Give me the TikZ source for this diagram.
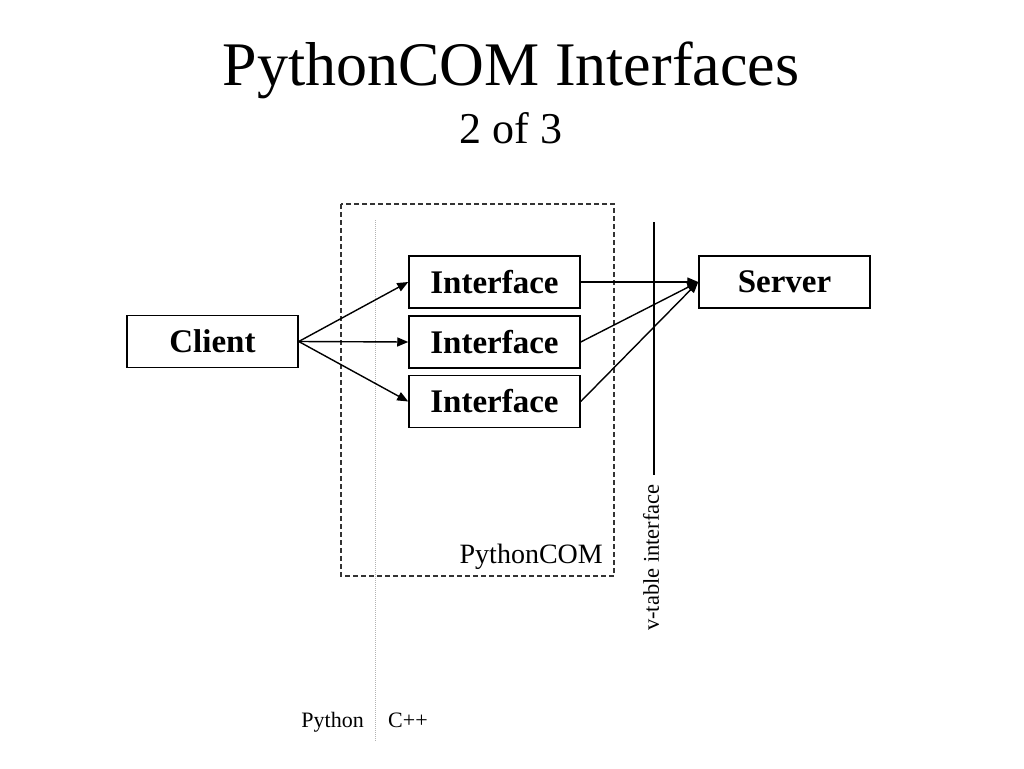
\documentclass[tikz,border=0pt]{standalone}
\usepackage{fontspec}
\setmainfont{Liberation Serif}
\usetikzlibrary{arrows.meta}
\begin{document}
\begin{tikzpicture}[x=1pt,y=-1pt,
  box/.style={draw, line width=1.5pt, minimum width=171pt, minimum height=52pt, inner sep=0pt,
    font=\fontsize{33}{40}\selectfont\bfseries},
  conn/.style={line width=1.4pt, -{Triangle[length=11pt,width=9pt]}},
  lbl/.style={font=\fontsize{22}{26}\selectfont, inner sep=0pt}
]
\useasboundingbox (0,0) rectangle (1024,768);
% title
\node[anchor=base, inner sep=0pt, font=\fontsize{62}{70}\selectfont] (title) at (511,85) {PythonCOM Interfaces};
\node[anchor=base, inner sep=0pt, font=\fontsize{44}{50}\selectfont] (sub) at (511,143) {2 of 3};
% PythonCOM dashed box
\draw[dash pattern=on 5pt off 3pt, line width=1.2pt, black!80] (341,204) rectangle (614,576);
\node[anchor=base east, inner sep=0pt, font=\fontsize{28}{32}\selectfont] (pcom) at (603,563) {PythonCOM};
% Python / C++ divider
\coordinate (dtop) at (375,220);
\coordinate (dbot) at (375,742);
\draw[black!30, line width=0.9pt, dash pattern=on 1pt off 1pt] (dtop) -- (dbot);
\node[lbl, anchor=base east] (py) at (364,727) {Python};
\node[lbl, anchor=base west] (cpp) at (388,727) {C++};
% v-table line
\coordinate (vtop) at (654,222);
\coordinate (vbot) at (654,475);
\draw[line width=2.2pt] (vtop) -- (vbot);
\node[rotate=90, anchor=east, inner sep=0pt, font=\fontsize{22.5}{26}\selectfont] (vt) at (651,484) {v-table interface};
% boxes
\node[box] (client) at (212.5,341.5) {Client};
\node[box] (i1) at (494.5,282) {Interface};
\node[box] (i2) at (494.5,342) {Interface};
\node[box] (i3) at (494.5,401.5) {Interface};
\node[box] (server) at (784.5,282) {Server};
% connectors
\draw[conn] (client.east) -- (i1.west);
\draw[conn] (client.east) -- (i2.west);
\draw[conn] (client.east) -- (i3.west);
\draw[conn] (i1.east) -- (server.west);
\draw[conn] (i2.east) -- (server.west);
\draw[conn] (i3.east) -- (server.west);
\end{tikzpicture}
\end{document}
